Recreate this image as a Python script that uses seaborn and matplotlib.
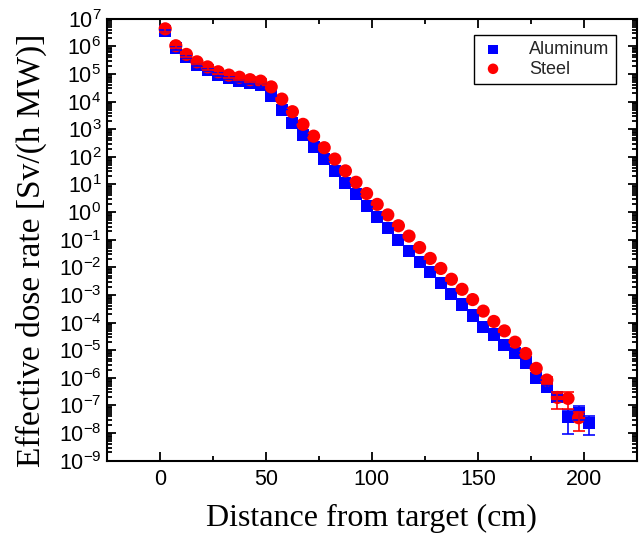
import matplotlib
matplotlib.use("Agg")
import matplotlib.pyplot as plt
import numpy as np
import pandas as pd
import seaborn as sns
from matplotlib.ticker import LogLocator, MultipleLocator, NullFormatter, FixedLocator

# ---------------- data ----------------
distance_al = [2.5, 7.5, 12.5, 17.5, 22.5, 27.5, 32.5, 37.5, 42.5, 47.5,
               52.5, 57.5, 62.5, 67.5, 72.5, 77.5, 82.5, 87.5, 92.5, 97.5,
               102.5, 107.5, 112.5, 117.5, 122.5, 127.5, 132.5, 137.5, 142.5, 147.5,
               152.5, 157.5, 162.5, 167.5, 172.5, 177.5, 182.5, 187.5, 192.5, 197.5,
               202.5]
dose_al = [3.55e6, 8.5e5, 4.1e5, 2.1e5, 1.4e5, 9.5e4, 7.2e4, 5.6e4, 4.7e4, 3.9e4,
           1.6e4, 5.0e3, 1.7e3, 6.0e2, 2.2e2, 81, 31, 11, 4.5, 1.6,
           0.65, 0.26, 0.095, 0.038, 0.016, 6.8e-3, 2.7e-3, 1.1e-3, 4.5e-4, 1.8e-4,
           6.8e-5, 3.7e-5, 1.6e-5, 7.9e-6, 3.6e-6, 1.0e-6, 4.7e-7, 2.0e-7, 3.7e-8, 5.2e-8,
           2.4e-8]
relerr_al_lo = [0.1] * 10 + [0.03] * 25 + [0.15, 0.2, 0.25, 0.74, 0.42, 0.65]
relerr_al_hi = [0.1] * 10 + [0.03] * 25 + [0.15, 0.2, 0.22, 0.78, 0.77, 0.75]

distance_st = [2.5, 7.5, 12.5, 17.5, 22.5, 27.5, 32.5, 37.5, 42.5, 47.5,
               52.5, 57.5, 62.5, 67.5, 72.5, 77.5, 82.5, 87.5, 92.5, 97.5,
               102.5, 107.5, 112.5, 117.5, 122.5, 127.5, 132.5, 137.5, 142.5, 147.5,
               152.5, 157.5, 162.5, 167.5, 172.5, 177.5, 182.5, 187.5, 192.5, 197.5]
dose_st = [4.3e6, 1.05e6, 5.1e5, 2.75e5, 1.8e5, 1.2e5, 9.1e4, 7.6e4, 6.2e4, 5.5e4,
           3.4e4, 1.23e4, 4.3e3, 1.5e3, 5.6e2, 2.14e2, 83, 31, 12, 4.7,
           1.9, 0.79, 0.32, 0.135, 0.052, 0.021, 9.1e-3, 3.7e-3, 1.6e-3, 6.8e-4,
           2.6e-4, 1.1e-4, 5.0e-5, 1.95e-5, 7.6e-6, 2.2e-6, 8.3e-7, 1.95e-7, 1.8e-7, 3.6e-8]
relerr_st_lo = [0.2] * 10 + [0.03] * 25 + [0.1, 0.25, 0.62, 0.6, 0.67]
relerr_st_hi = [0.2] * 10 + [0.03] * 25 + [0.1, 0.25, 0.64, 0.72, 0.61]

labels = ["Aluminum", "Steel"]
x_ticks = [0, 50, 100, 150, 200]

# ---------------- style ----------------
sns.set_theme(style="ticks")
plt.rcParams["font.family"] = ["Liberation Sans", "DejaVu Sans"]
plt.rcParams["mathtext.fontset"] = "custom"
plt.rcParams["mathtext.rm"] = "Liberation Sans"
plt.rcParams["mathtext.it"] = "Liberation Sans:italic"
plt.rcParams["mathtext.bf"] = "Liberation Sans:bold"

fig = plt.figure(figsize=(6.44, 5.42), dpi=100)
ax = fig.add_axes([0.166, 0.150, 0.823, 0.8155])

df_al = pd.DataFrame({"distance": distance_al, "dose": dose_al, "material": labels[0]})
df_st = pd.DataFrame({"distance": distance_st, "dose": dose_st, "material": labels[1]})

sns.scatterplot(data=df_al, x="distance", y="dose", marker="s", s=76, color="#0000ff",
                edgecolor="none", linewidth=0, ax=ax, label=labels[0], zorder=3)
sns.scatterplot(data=df_st, x="distance", y="dose", marker="o", s=90, color="#ff0000",
                edgecolor="none", linewidth=0, ax=ax, label=labels[1], zorder=4)

y_al = np.array(dose_al)
y_st = np.array(dose_st)
ax.errorbar(distance_al, dose_al,
            yerr=[y_al * np.array(relerr_al_lo), y_al * np.array(relerr_al_hi)],
            fmt="none", ecolor="#0000ff", elinewidth=1.3, capsize=4.2, capthick=1.3,
            zorder=5, alpha=0.9)
ax.errorbar(distance_st, dose_st,
            yerr=[y_st * np.array(relerr_st_lo), y_st * np.array(relerr_st_hi)],
            fmt="none", ecolor="#ff0000", elinewidth=1.3, capsize=4.2, capthick=1.3,
            zorder=6, alpha=0.9)

ax.set_yscale("log")
ax.set_xlim(-25, 225)
ax.set_ylim(1e-9, 1e7)
ax.xaxis.set_major_locator(FixedLocator(x_ticks))
ax.xaxis.set_minor_locator(MultipleLocator(25))
ax.yaxis.set_major_locator(LogLocator(base=10, numticks=30))
ax.yaxis.set_minor_locator(LogLocator(base=10, subs=np.arange(2, 10), numticks=30))
ax.yaxis.set_minor_formatter(NullFormatter())

ax.tick_params(which="both", direction="in", top=True, right=True, colors="black",
               labelsize=15.5, width=1.3)
ax.tick_params(which="major", length=6.5, pad=6)
ax.tick_params(which="minor", length=3.5)
ax.tick_params(axis="y", which="major", pad=4)
for s in ax.spines.values():
    s.set_linewidth(1.5)
    s.set_color("black")

ax.set_xlabel("Distance from target (cm)", family=["Liberation Serif"], fontsize=23,
              labelpad=10, color="black")
ax.set_ylabel("Effective dose rate [Sv/(h MW)]", family=["Liberation Serif"], fontsize=24,
              color="black")
ax.yaxis.set_label_coords(-0.113, 0.475)

leg = ax.legend(loc="upper right", bbox_to_anchor=(0.960, 0.963), borderaxespad=0,
                fancybox=False, edgecolor="black", framealpha=1, fontsize=13,
                handletextpad=1.3, markerscale=0.8, borderpad=0.35, labelspacing=0.12,
                handlelength=1.4)
leg.get_frame().set_linewidth(1.0)

fig.savefig("out.png", dpi=100)
